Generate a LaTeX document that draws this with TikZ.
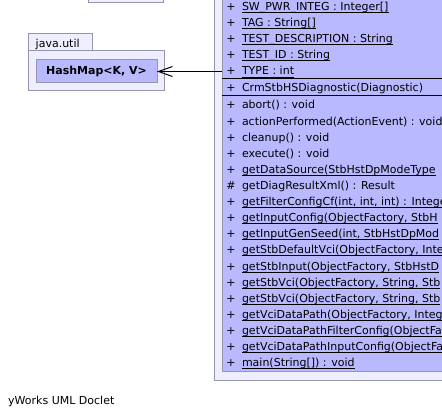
\documentclass[tikz,border=0pt]{standalone}
\usepackage{fontspec}
\setmainfont{DejaVu Sans}
\usetikzlibrary{arrows.meta}
\definecolor{clsfill}{RGB}{185,185,255}
\definecolor{pkgfill}{RGB}{238,238,255}
\definecolor{bordc}{RGB}{150,150,170}
\tikzset{
  pkgbox/.style={draw=bordc, fill=pkgfill, line width=1pt, inner sep=0pt, outer sep=0pt},
  classbox/.style={draw=bordc, fill=clsfill, line width=1pt, inner sep=0pt, outer sep=0pt},
  vis/.style={anchor=base, inner sep=0pt, outer sep=0pt},
  mem/.style={anchor=base west, inner sep=0pt, outer sep=0pt},
  uline/.style={line width=0.9pt, black},
  sepline/.style={line width=1pt, black},
  dep/.style={line width=1pt, -{Straight Barb[length=14pt,width=10pt,line width=1pt]}}
}
\newcommand{\urow}[4]{%
  \node[vis] (#1v) at (231,#2) {#3};
  \node[mem] (#1) at (242,#2) {#4};
  \draw[uline] ([yshift=-2pt]#1.base west) -- ([yshift=-2pt]#1.base east);
}
\newcommand{\prow}[4]{%
  \node[vis] (#1v) at (231,#2) {#3};
  \node[mem] (#1) at (242,#2) {#4};
}
\begin{document}
\begin{tikzpicture}[x=1pt,y=-1pt,font=\fontsize{11}{13}\selectfont]
\useasboundingbox (0,0) rectangle (442,417);
\fill[white] (0,0) rectangle (442,417);
\begin{scope}
\clip (0,0) rectangle (442,417);
% top partial box
\node[pkgbox, minimum width=75pt, minimum height=13pt] (topbox) at (125.5,-3.5) {};
% package containing the class
\node[pkgbox, minimum width=266pt, minimum height=390pt] (clspkg) at (347,185) {};
% class box
\node[classbox, minimum width=248pt, minimum height=381pt] (crm) at (346,180.5) {};
\draw[sepline] (crm.west |- 0,78.8) -- (crm.east |- 0,78.8);
\draw[sepline] (crm.west |- 0,95.5) -- (crm.east |- 0,95.5);
% attributes
\urow{a0}{10.6}{+}{SW\_PWR\_INTEG : Integer[]}
\urow{a1}{26.7}{+}{TAG : String[]}
\urow{a2}{42.8}{+}{TEST\_DESCRIPTION : String}
\urow{a3}{58.9}{+}{TEST\_ID : String}
\urow{a4}{75}{+}{TYPE : int}
% constructor
\prow{c0}{92}{+}{CrmStbHSDiagnostic(Diagnostic)}
% methods
\prow{m0}{109}{+}{abort() : void}
\prow{m1}{125.1}{+}{actionPerformed(ActionEvent) : void}
\prow{m2}{141.2}{+}{cleanup() : void}
\prow{m3}{157.3}{+}{execute() : void}
\urow{m4}{173.4}{+}{getDataSource(StbHstDpModeType}
\prow{m5}{189.5}{\#}{getDiagResultXml() : Result}
\urow{m6}{205.6}{+}{getFilterConfigCf(int, int, int) : Integer}
\urow{m7}{221.7}{+}{getInputConfig(ObjectFactory, StbH}
\urow{m8}{237.8}{+}{getInputGenSeed(int, StbHstDpMod}
\urow{m9}{253.9}{+}{getStbDefaultVci(ObjectFactory, Inte}
\urow{m10}{270}{+}{getStbInput(ObjectFactory, StbHstD}
\urow{m11}{286.1}{+}{getStbVci(ObjectFactory, String, Stb}
\urow{m12}{302.2}{+}{getStbVci(ObjectFactory, String, Stb}
\urow{m13}{318.3}{+}{getVciDataPath(ObjectFactory, Integ}
\urow{m14}{334.4}{+}{getVciDataPathFilterConfig(ObjectFa}
\urow{m15}{350.5}{+}{getVciDataPathInputConfig(ObjectFa}
\urow{m16}{366.6}{+}{main(String[]) : void}
\end{scope}
% java.util package
\node[pkgbox, minimum width=64pt, minimum height=17pt] (tab) at (60,42.5) {};
\node[inner sep=0pt, anchor=base west] (tabtext) at (35.5,47.5) {java.util};
\node[pkgbox, minimum width=136pt, minimum height=40pt] (jpkg) at (96,71) {};
\node[classbox, minimum width=121pt, minimum height=23pt, font=\fontsize{11}{13}\selectfont\bfseries] (hashmap) at (96.5,71.5) {HashMap<K, V>};
\draw[dep] (crm.west |- hashmap.east) -- (hashmap.east);
% footer
\node[inner sep=0pt, anchor=base west] (footer) at (8,404) {yWorks UML Doclet};
\end{tikzpicture}
\end{document}
